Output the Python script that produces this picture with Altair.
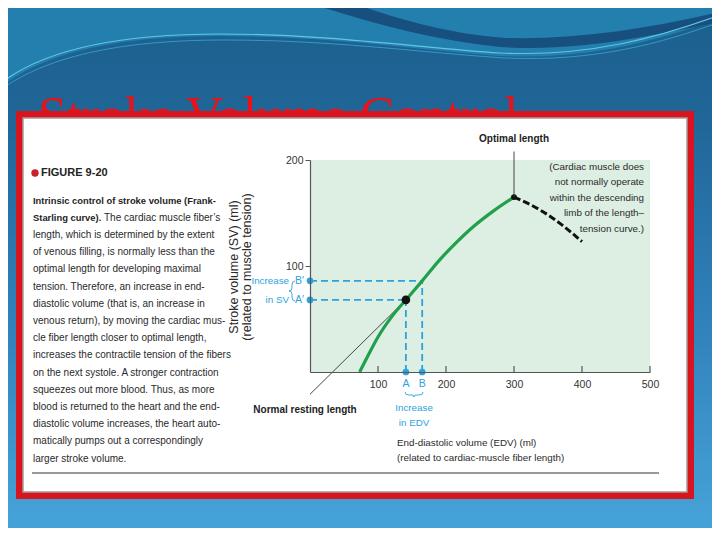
import altair as alt
import pandas as pd

# ---------------- data ----------------
edv_curve = [73, 85, 100, 120, 141, 165, 191, 215, 240, 270, 300]
sv_curve = [0, 15, 33, 52, 68, 86, 106, 122, 137, 152, 165]
edv_desc = [300, 338, 368, 400]
sv_desc = [165, 153, 140, 123]
point_names = ["A", "B"]
edv_points = [141, 165]
sv_points = [68, 86]
optimal_edv = 300
optimal_sv = 165
x_ticks = [100, 200, 300, 400, 500]
y_ticks = [100, 200]

title_text = "Stroke Volume Control"
figure_label = "FIGURE 9-20"
caption_bold = ["Intrinsic control of stroke volume (Frank-", "Starling curve)."]
caption_line2_rest = "The cardiac muscle fiber\u2019s"
caption_lines = [
    "length, which is determined by the extent",
    "of venous filling, is normally less than the",
    "optimal length for developing maximal",
    "tension. Therefore, an increase in end-",
    "diastolic volume (that is, an increase in",
    "venous return), by moving the cardiac mus-",
    "cle fiber length closer to optimal length,",
    "increases the contractile tension of the fibers",
    "on the next systole. A stronger contraction",
    "squeezes out more blood. Thus, as more",
    "blood is returned to the heart and the end-",
    "diastolic volume increases, the heart auto-",
    "matically pumps out a correspondingly",
    "larger stroke volume.",
]
note_lines = ["(Cardiac muscle does", "not normally operate", "within the descending",
              "limb of the length\u2013", "tension curve.)"]
y_title = ["Stroke volume (SV) (ml)", "(related to muscle tension)"]
x_title = ["End-diastolic volume (EDV) (ml)", "(related to cardiac-muscle fiber length)"]

# ---------------- layout helpers ----------------
W, H = 340, 212
OX, OY = 310, 160  # page position of the plot origin


def px(x):
    return x - OX


def py(y):
    return y - OY


SANS = "Liberation Sans, Arial, sans-serif"
SERIF = "Liberation Serif, Times New Roman, serif"
BLUE = "#2ea2dc"
GREEN = "#20a04c"

XS = alt.Scale(domain=[0, 500], nice=False, zero=False)
YS = alt.Scale(domain=[0, 200], nice=False, zero=False)

axis_common = dict(domainColor="#555", domainWidth=1.2, labelFont=SANS, labelFontSize=10.5,
                   labelColor="#333", title=None, grid=False, zindex=1, labelFlush=False,
                   labelOverlap=False)
AX = alt.Axis(values=x_ticks, ticks=False, labelPadding=7, **axis_common)
AY = alt.Axis(values=y_ticks, tickSize=5, tickColor="#555", labelPadding=2, **axis_common)

one = pd.DataFrame({"k": [0]})
base = alt.Chart(one)


def fx(field):
    return alt.X(field, type="quantitative", scale=XS, axis=AX)


def fy(field):
    return alt.Y(field, type="quantitative", scale=YS, axis=AY)


def xd(v):
    return alt.XDatum(v, type="quantitative", scale=XS, axis=AX)


def yd(v):
    return alt.YDatum(v, type="quantitative", scale=YS, axis=AY)


def text(s, x, y, size, color="#2a2a2a", font=SANS, weight="normal", align="left",
         angle=None, baseline="middle"):
    kw = dict(text=s, fontSize=size, color=color, font=font, fontWeight=weight,
              align=align, baseline=baseline)
    if angle is not None:
        kw["angle"] = angle
    return base.mark_text(**kw).encode(x=x, y=y)


def rect(x1, y1, x2, y2, **style):
    return base.mark_rect(**style).encode(
        x=alt.value(px(x1)), x2=alt.value(px(x2)),
        y=alt.value(py(y1)), y2=alt.value(py(y2)))


def shape(path, x, y, **style):
    return base.mark_point(shape=path, size=4, opacity=1, **style).encode(
        x=alt.value(px(x)), y=alt.value(py(y)))


layers = []

# ---------------- slide background ----------------
layers.append(rect(0, 0, 720, 540, fill={
    "gradient": "linear", "x1": 0, "y1": 0, "x2": 0, "y2": 1,
    "stops": [{"offset": 0, "color": "#1c5f8c"}, {"offset": 0.2, "color": "#1f6596"},
              {"offset": 0.6, "color": "#3181bb"}, {"offset": 1, "color": "#47a5da"}]}))
layers.append(shape("M0,88 C40,55 110,36 220,36 C330,36 420,50 500,56 C590,60 660,40 720,18 L720,0 L0,0 Z",
                    0, 0, filled=True, fill="#237fae", strokeWidth=0))
layers.append(shape("M300,0 C360,20 430,40 500,47 C580,52 650,36 720,22 L720,12 C650,28 580,40 505,38 C440,33 385,15 345,0 Z",
                    0, 0, filled=True, fill="#17507e", strokeWidth=0))
layers.append(shape("M0,84 C40,52 110,34 220,34 C330,34 420,48 500,53 C590,57 660,37 720,15",
                    0, 0, filled=False, stroke="#62c6e2", strokeWidth=1.2))
layers.append(shape("M0,90 C45,58 115,40 225,40 C335,40 425,53 505,58 C595,62 662,43 720,22",
                    0, 0, filled=False, stroke="#3aa6cf", strokeWidth=0.8))

# title (partly hidden by the frame)
layers.append(text(title_text, alt.value(px(38)), alt.value(py(133)), 52, color="#e8121b",
                   font=SERIF, baseline="alphabetic"))

# frame
layers.append(rect(16, 111, 694, 499, fill="#d8141f"))
layers.append(rect(23, 118, 687, 492, fill="white", stroke="#a99", strokeWidth=1.5))

# plot background
layers.append(rect(OX, OY, OX + W, OY + H, fill="#ddefe2"))

# separator line
layers.append(base.mark_rule(color="#777", strokeWidth=1.5).encode(
    x=alt.value(px(32)), x2=alt.value(px(659)), y=alt.value(py(473))))

# ---------------- caption column ----------------
layers.append(base.mark_circle(color="#c8202c", size=55, opacity=1).encode(
    x=alt.value(px(35)), y=alt.value(py(173))))
layers.append(text(figure_label, alt.value(px(41)), alt.value(py(173)), 11, color="#222",
                   weight="bold"))
CAP_X, CAP_Y, CAP_DY = 33, 200.5, 17.2
CAP_SIZE, CAP_BOLD = 10, 9.4
layers.append(text(caption_bold[0], alt.value(px(CAP_X)), alt.value(py(CAP_Y)), CAP_BOLD,
                   color="#1e1e1e", weight="bold"))
layers.append(text(caption_bold[1], alt.value(px(CAP_X)), alt.value(py(CAP_Y + CAP_DY)), CAP_BOLD,
                   color="#1e1e1e", weight="bold"))
layers.append(text(caption_line2_rest, alt.value(px(104)), alt.value(py(CAP_Y + CAP_DY)), CAP_SIZE))
for i, line in enumerate(caption_lines):
    layers.append(text(line, alt.value(px(CAP_X)), alt.value(py(CAP_Y + CAP_DY * (i + 2))), CAP_SIZE))

# ---------------- chart ----------------
curve_df = pd.DataFrame({"edv": edv_curve, "sv": sv_curve})
desc_df = pd.DataFrame({"edv": edv_desc, "sv": sv_desc})

# blue guide lines
guide_rows = []
for e, s in zip(edv_points, sv_points):
    guide_rows.append({"x1": 0, "x2": e, "y1": s, "y2": s})
    guide_rows.append({"x1": e, "x2": e, "y1": 0, "y2": s})
guide_df = pd.DataFrame(guide_rows)
layers.append(alt.Chart(guide_df).mark_rule(color=BLUE, strokeDash=[7, 4], strokeWidth=1.8).encode(
    x=fx("x1"), x2="x2:Q", y=fy("y1"), y2="y2:Q"))

# pointer to normal resting length
pointer_df = pd.DataFrame({"edv": [0, edv_points[0]], "sv": [-21, sv_points[0]]})
layers.append(alt.Chart(pointer_df).mark_line(color="#333", strokeWidth=0.9).encode(
    x=fx("edv"), y=fy("sv")))

# main curve
layers.append(alt.Chart(curve_df).mark_line(color=GREEN, strokeWidth=3.2, interpolate="monotone").encode(
    x=fx("edv"), y=fy("sv")))

# descending limb
layers.append(alt.Chart(desc_df).mark_line(color="#111", strokeWidth=3, strokeDash=[7, 3],
                                           interpolate="monotone").encode(
    x=fx("edv"), y=fy("sv")))

# x ticks pointing into plot
tick_df = pd.DataFrame({"t": x_ticks})
layers.append(alt.Chart(tick_df).mark_rule(color="#555", strokeWidth=1.2).encode(
    x=fx("t"), y=alt.value(H), y2=alt.value(H - 6)))

# blue dots on axes
dots_df = pd.DataFrame({"edv": [0, 0] + edv_points, "sv": sv_points + [0, 0]})
layers.append(alt.Chart(dots_df).mark_circle(color=BLUE, size=45, opacity=1).encode(
    x=fx("edv"), y=fy("sv")))

# black points
layers.append(alt.Chart(pd.DataFrame({"edv": [edv_points[0]], "sv": [sv_points[0]]})).mark_circle(
    color="#111", size=75, opacity=1).encode(x=fx("edv"), y=fy("sv")))
layers.append(alt.Chart(pd.DataFrame({"edv": [optimal_edv], "sv": [optimal_sv]})).mark_circle(
    color="#111", size=35, opacity=1).encode(x=fx("edv"), y=fy("sv")))

# optimal length label and leader
layers.append(base.mark_rule(color="#333", strokeWidth=0.9).encode(
    x=xd(optimal_edv), y=yd(optimal_sv), y2=alt.Y2Datum(208)))
layers.append(text("Optimal length", xd(optimal_edv), alt.value(py(139)), 10, color="#222",
                   weight="bold", align="center"))

# note on descending limb
for i, line in enumerate(note_lines):
    layers.append(text(line, alt.value(px(644)), alt.value(py(167 + 15.4 * i)), 9.8,
                       align="right"))

# A / B labels
for name, e, s in zip(point_names, edv_points, sv_points):
    layers.append(text(name, xd(e), alt.value(py(384)), 10.5, color=BLUE, align="center"))
    layers.append(text(name + "\u2032", alt.value(px(295)), yd(s), 10.5, color=BLUE))
layers.append(text("Increase", alt.value(px(289)), yd(sv_points[1]), 9.8, color=BLUE, align="right"))
layers.append(text("in SV", alt.value(px(289)), yd(sv_points[0]), 9.8, color=BLUE, align="right"))
layers.append(shape("M4,-10 Q1,-10 1,-6 L1,-3 Q1,0 -2,0 Q1,0 1,3 L1,6 Q1,10 4,10", 291, 291,
                    filled=False, stroke=BLUE, strokeWidth=0.9))
layers.append(shape("M-9,0 Q-9,3 -5,3 L-2,3 Q0,3 0,5 Q0,3 2,3 L5,3 Q9,3 9,0", 414, 392,
                    filled=False, stroke=BLUE, strokeWidth=0.9))
layers.append(text("Increase", xd(sum(edv_points) / 2), alt.value(py(408)), 9.8, color=BLUE,
                   align="center"))
layers.append(text("in EDV", xd(sum(edv_points) / 2), alt.value(py(423)), 9.8, color=BLUE,
                   align="center"))

# normal resting length label
layers.append(text("Normal resting length", alt.value(px(305)), alt.value(py(410)), 10,
                   color="#222", weight="bold", align="center"))

# axis titles
layers.append(text(y_title[0], alt.value(px(234)), alt.value(py(267)), 12.5,
                   align="center", angle=270))
layers.append(text(y_title[1], alt.value(px(247)), alt.value(py(267)), 12.5,
                   align="center", angle=270))
layers.append(text(x_title[0], alt.value(px(397)), alt.value(py(443)), 9.8))
layers.append(text(x_title[1], alt.value(px(397)), alt.value(py(458)), 9.8))

chart = alt.layer(*layers).properties(
    width=W, height=H,
    autosize=alt.AutoSizeParams(type="none"),
    padding={"left": OX - 8, "top": OY - 8, "right": 704 - (OX - 8) - W, "bottom": 520 - (OY - 8) - H},
    background="white",
).configure_view(strokeWidth=0)

chart.save("out.html", embed_options={"renderer": "svg", "actions": False})
